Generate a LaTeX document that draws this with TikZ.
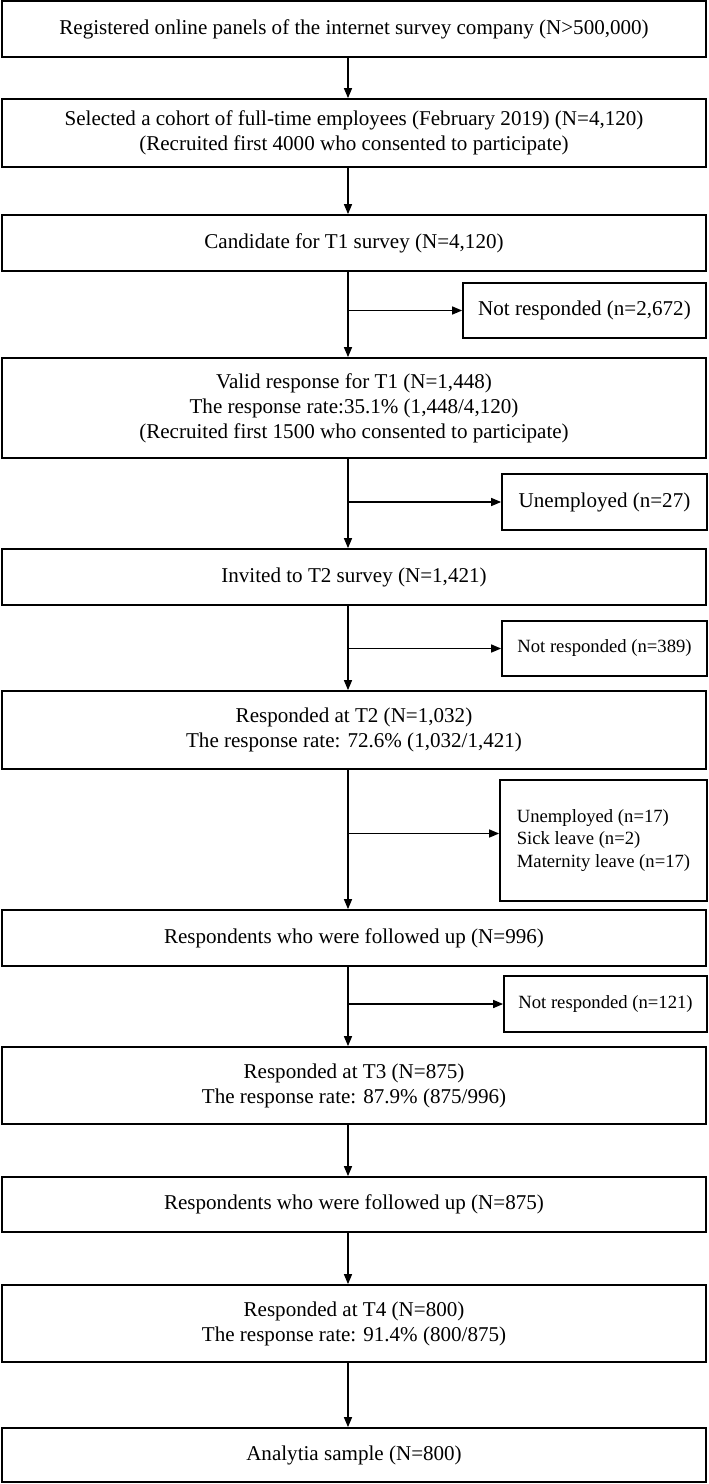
\documentclass[tikz,border=0pt]{standalone}
\usepackage{fontspec}
\setmainfont{Liberation Serif}
\usetikzlibrary{arrows.meta}
\begin{document}
\begin{tikzpicture}[x = 0.75pt, y = -0.75pt,
  mainbox/.style = {draw = black, line width = 1.3pt, minimum width = 704*0.75pt, inner sep = 0pt, align = center, font = \fontsize{15.8}{18.8}\selectfont},
  sidebox/.style = {draw = black, line width = 1.3pt, inner sep = 0pt, align = center, font = \fontsize{15.8}{18.8}\selectfont},
  smallbox/.style = {sidebox, font = \fontsize{14}{16.8}\selectfont},
  flow/.style = {line width = 1.1pt, -{Triangle[length = 7.5pt, width = 6pt]}}]
\useasboundingbox (0,0) rectangle (709,1484);
\coordinate (sp) at (348,0);
\node [mainbox, minimum height = 56*0.75pt] (reg) at (354,29) {Registered online panels of the internet survey company (N>500,000)};
\node [mainbox, minimum height = 68*0.75pt] (sel) at (354,133) {Selected a cohort of full-time employees (February 2019) (N=4,120)\\(Recruited first 4000 who consented to participate)};
\node [mainbox, minimum height = 56*0.75pt] (cand) at (354,243) {Candidate for T1 survey (N=4,120)};
\node [mainbox, minimum height = 100*0.75pt] (valid) at (354,408) {Valid response for T1 (N=1,448)\\The response rate:35.1\% (1,448/4,120)\\(Recruited first 1500 who consented to participate)};
\node [mainbox, minimum height = 56*0.75pt] (inv) at (354,577) {Invited to T2 survey (N=1,421)};
\node [mainbox, minimum height = 78*0.75pt] (resp2) at (354,730) {Responded at T2 (N=1,032)\\The response rate: 72.6\% (1,032/1,421)};
\node [mainbox, minimum height = 56*0.75pt] (foll1) at (354,938) {Respondents who were followed up (N=996)};
\node [mainbox, minimum height = 77*0.75pt] (resp3) at (354,1085.5) {Responded at T3 (N=875)\\The response rate: 87.9\% (875/996)};
\node [mainbox, minimum height = 55*0.75pt] (foll2) at (354,1204.5) {Respondents who were followed up (N=875)};
\node [mainbox, minimum height = 77*0.75pt] (resp4) at (354,1323.5) {Responded at T4 (N=800)\\The response rate: 91.4\% (800/875)};
\node [mainbox, minimum height = 54*0.75pt] (anal) at (354,1455) {Analytia sample (N=800)};
\node [sidebox, minimum width = 243*0.75pt, minimum height = 55*0.75pt] (nr1) at (584.5,310.5) {Not responded (n=2,672)};
\node [sidebox, minimum width = 205*0.75pt, minimum height = 56*0.75pt] (unemp1) at (604.5,502) {Unemployed (n=27)};
\node [smallbox, minimum width = 205*0.75pt, minimum height = 55*0.75pt] (nr2) at (604.5,648.5) {Not responded (n=389)};
\node [smallbox, align = left, minimum width = 207*0.75pt, minimum height = 121*0.75pt] (excl) at (603.5,840.5) {Unemployed (n=17)\\Sick leave (n=2)\\Maternity leave (n=17)};
\node [smallbox, minimum width = 203*0.75pt, minimum height = 56*0.75pt] (nr3) at (605.5,1004) {Not responded (n=121)};
\foreach \a/\b in {reg/sel, sel/cand, cand/valid, valid/inv, inv/resp2, resp2/foll1, foll1/resp3, resp3/foll2, foll2/resp4, resp4/anal}
  \draw [flow] (\a.south -| sp) -- (\b.north -| sp);
\foreach \s in {nr1, unemp1, nr2, nr3}
  \draw [flow] (sp |- \s.west) -- (\s.west);
\draw [flow] (sp |- excl.west) ++(0,-7) -- ([yshift = 5.25pt]excl.west);
\end{tikzpicture}
\end{document}
